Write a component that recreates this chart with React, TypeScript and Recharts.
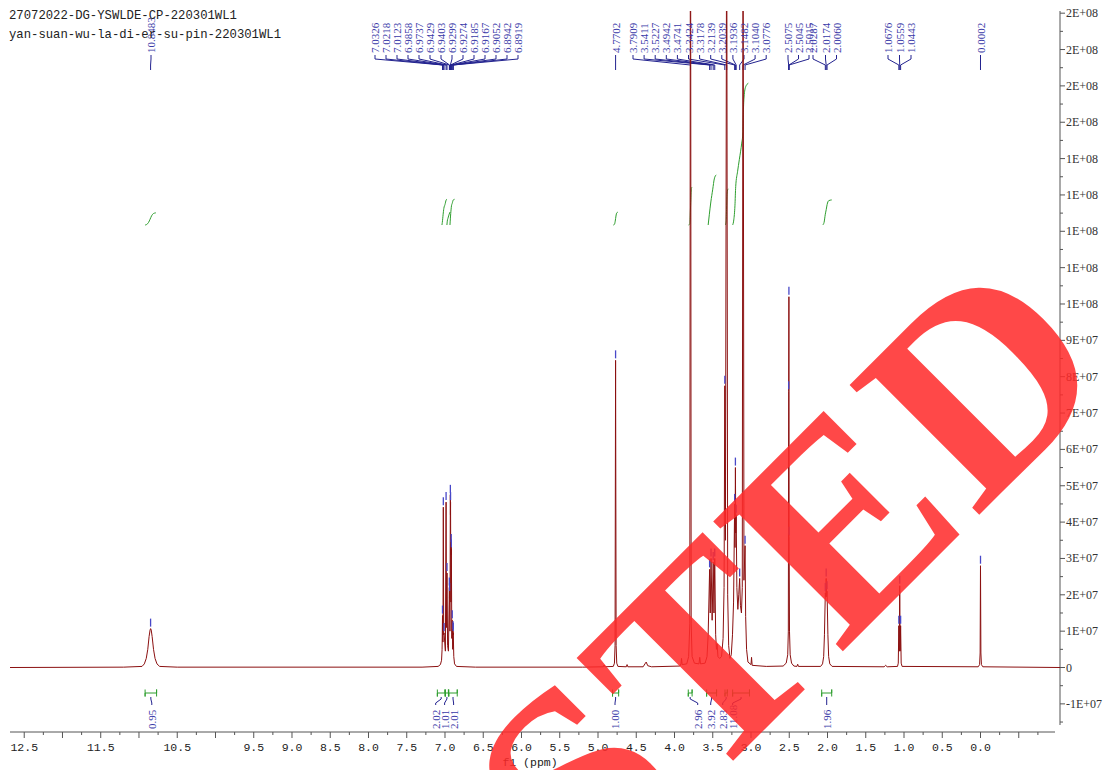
import React from 'react';
import { ComposedChart, Line, Scatter, XAxis, YAxis, ReferenceLine } from 'recharts';

// ---------- layout constants ----------
const W = 1106;
const H = 770;
const PLOT_LEFT = 10;
const PLOT_RIGHT = 1060;
const PLOT_TOP = 11;
const PLOT_BOTTOM = 732;
const X_DOMAIN: [number, number] = [-1.039, 12.686];
const Y_DOMAIN: [number, number] = [-1.774, 18.06]; // units of 1E+07
const INT_DOMAIN: [number, number] = [-39.61, 16.72];

const yAt = (px: number) =>
  Y_DOMAIN[1] - ((px - PLOT_TOP) * (Y_DOMAIN[1] - Y_DOMAIN[0])) / (PLOT_BOTTOM - PLOT_TOP);
const xAt = (px: number) =>
  X_DOMAIN[1] - ((px - PLOT_LEFT) * (X_DOMAIN[1] - X_DOMAIN[0])) / (PLOT_RIGHT - PLOT_LEFT);

// ---------- text ----------
const titleLines = ['27072022-DG-YSWLDE-CP-220301WL1', 'yan-suan-wu-la-di-er-su-pin-220301WL1'];
const xAxisTitle = 'f1 (ppm)';
const watermark = 'TESTED';

// ---------- axes ----------
const xLabelValues = [12.5, 11.5, 10.5, 9.5, 9.0, 8.5, 8.0, 7.5, 7.0, 6.5, 6.0, 5.5, 5.0, 4.5, 4.0, 3.5, 3.0, 2.5, 2.0, 1.5, 1.0, 0.5, 0.0];
const xTickLabels = ['12.5', '11.5', '10.5', '9.5', '9.0', '8.5', '8.0', '7.5', '7.0', '6.5', '6.0', '5.5', '5.0', '4.5', '4.0', '3.5', '3.0', '2.5', '2.0', '1.5', '1.0', '0.5', '0.0'];
const xTickValues: number[] = [];
for (let i = 0; i <= 53; i++) xTickValues.push(12.5 - i * 0.25);

const yMajorValues = [-1, 0, 1, 2, 3, 4, 5, 6, 7, 8, 9, 10, 11, 12, 13, 14, 15, 16, 17, 18];
const yTickLabels = ['-1E+07', '0', '1E+07', '2E+07', '3E+07', '4E+07', '5E+07', '6E+07', '7E+07', '8E+07', '9E+07', '1E+08', '1E+08', '1E+08', '1E+08', '1E+08', '2E+08', '2E+08', '2E+08', '2E+08'];
const yTickValues: number[] = [];
yMajorValues.forEach((v) => {
  yTickValues.push(v);
  yTickValues.push(v - 0.5);
});

// ---------- spectrum (ppm, intensity in 1E+07) ----------
const spectrum: [number, number][] = [
  [12.686, 0], [11.2, 0.01], [10.96, 0.03], [10.93, 0.1], [10.905, 0.25], [10.885, 0.5], [10.868, 0.85],
  [10.855, 1.03], [10.848, 1.07], [10.84, 1.03], [10.828, 0.85], [10.81, 0.5], [10.79, 0.25], [10.765, 0.1],
  [10.73, 0.03], [10.5, 0.01], [7.3, 0.01], [7.09, 0.03], [7.06, 0.08], [7.045, 0.2], [7.038, 0.5],
  [7.0326, 1.43], [7.027, 0.7], [7.0218, 4.41], [7.017, 0.9], [7.0123, 0.95], [6.995, 0.45], [6.9858, 4.55],
  [6.98, 1.1], [6.9737, 2.6], [6.966, 0.6], [6.955, 0.45], [6.9429, 2.2], [6.9415, 1.9], [6.9403, 2.05],
  [6.935, 1.0], [6.9299, 4.75], [6.9286, 4.2], [6.9274, 4.55], [6.923, 1.8], [6.9185, 3.4], [6.9176, 3.1],
  [6.9167, 3.25], [6.911, 0.8], [6.9052, 1.3], [6.899, 0.5], [6.8942, 1.0], [6.893, 0.9], [6.8919, 0.95],
  [6.885, 0.3], [6.875, 0.1], [6.85, 0.03], [6.6, 0.01], [5.2, 0.01], [4.93, 0.02], [4.92, 0.07], [4.91, 0.02],
  [4.8, 0.03], [4.785, 0.12], [4.777, 0.6], [4.7702, 8.45], [4.763, 0.6], [4.755, 0.12], [4.74, 0.03],
  [4.63, 0.02], [4.62, 0.08], [4.61, 0.02], [4.41, 0.02], [4.38, 0.12], [4.37, 0.15], [4.35, 0.05], [4.3, 0.02],
  [3.93, 0.04], [3.915, 0.1], [3.908, 0.25], [3.9, 0.08], [3.84, 0.1], [3.815, 0.3], [3.8, 1.2], [3.7909, 25],
  [3.782, 1.2], [3.77, 0.3], [3.74, 0.12], [3.68, 0.1], [3.67, 0.28], [3.66, 0.1], [3.6, 0.12], [3.575, 0.3],
  [3.56, 0.9], [3.5411, 2.7], [3.533, 1.5], [3.5227, 3.0], [3.508, 1.3], [3.4942, 2.9], [3.484, 1.5],
  [3.4741, 3.0], [3.462, 0.9], [3.452, 0.5], [3.443, 0.65], [3.432, 0.3], [3.41, 0.25], [3.385, 0.3],
  [3.365, 0.8], [3.352, 2.2], [3.3424, 7.75], [3.334, 3.5], [3.3178, 22], [3.305, 2.0], [3.292, 0.6],
  [3.275, 0.25], [3.258, 0.35], [3.242, 0.9], [3.228, 1.8], [3.2139, 4.5], [3.209, 3.3], [3.2039, 5.5],
  [3.199, 3.7], [3.1936, 4.2], [3.185, 2.2], [3.172, 1.6], [3.16, 2.0], [3.1482, 2.45], [3.138, 1.7],
  [3.125, 1.5], [3.114, 2.2], [3.104, 22], [3.092, 2.4], [3.0776, 3.35], [3.07, 1.4], [3.058, 0.5],
  [3.04, 0.15], [3.0, 0.08], [2.993, 0.28], [2.985, 0.06], [2.8, 0.03], [2.58, 0.04], [2.54, 0.12],
  [2.52, 0.35], [2.512, 1.0], [2.5075, 7.6], [2.5045, 10.2], [2.5015, 3.6], [2.497, 1.0], [2.488, 0.35],
  [2.47, 0.12], [2.44, 0.04], [2.4, 0.03], [2.39, 0.09], [2.38, 0.03], [2.09, 0.03], [2.065, 0.1], [2.05, 0.3],
  [2.04, 0.9], [2.0287, 2.05], [2.022, 1.95], [2.0174, 2.45], [2.012, 1.95], [2.006, 2.1], [1.995, 0.9],
  [1.985, 0.3], [1.97, 0.1], [1.94, 0.03], [1.26, 0.02], [1.24, 0.06], [1.22, 0.02], [1.085, 0.03],
  [1.075, 0.12], [1.0676, 1.15], [1.062, 0.45], [1.0559, 2.25], [1.05, 0.45], [1.0443, 1.15], [1.037, 0.12],
  [1.025, 0.03], [0.03, 0.02], [0.012, 0.08], [0.005, 0.4], [0.0002, 2.8], [-0.005, 0.4], [-0.012, 0.08],
  [-0.03, 0.02], [-1.039, 0],
];

// ---------- peak picking ----------
const peakPpm = [10.8483, 7.0326, 7.0218, 7.0123, 6.9858, 6.9737, 6.9429, 6.9403, 6.9299, 6.9274, 6.9185, 6.9167, 6.9052, 6.8942, 6.8919, 4.7702, 3.7909, 3.5411, 3.5227, 3.4942, 3.4741, 3.3424, 3.3178, 3.2139, 3.2039, 3.1936, 3.1482, 3.104, 3.0776, 2.5075, 2.5045, 2.5015, 2.0287, 2.0174, 2.006, 1.0676, 1.0559, 1.0443, 0.0002];
const peakText = ['10.8483', '7.0326', '7.0218', '7.0123', '6.9858', '6.9737', '6.9429', '6.9403', '6.9299', '6.9274', '6.9185', '6.9167', '6.9052', '6.8942', '6.8919', '4.7702', '3.7909', '3.5411', '3.5227', '3.4942', '3.4741', '3.3424', '3.3178', '3.2139', '3.2039', '3.1936', '3.1482', '3.1040', '3.0776', '2.5075', '2.5045', '2.5015', '2.0287', '2.0174', '2.0060', '1.0676', '1.0559', '1.0443', '0.0002'];
const peakHeight = [1.07, 1.43, 4.41, 0.95, 4.55, 2.6, 2.2, 2.05, 4.75, 4.55, 3.4, 3.25, 1.3, 1.0, 0.95, 8.45, 25, 2.7, 3.0, 2.9, 3.0, 7.75, 22, 4.5, 5.5, 4.2, 2.45, 22, 3.35, 7.6, 10.2, 3.6, 2.05, 2.45, 2.1, 1.15, 2.25, 1.15, 2.8];
// label positions along the top (pixels)
const peakLabelPx = [151, 375, 386, 397, 408, 419, 430, 441, 452, 463, 474, 485, 496, 507, 518, 615.6, 633, 644.1, 655.2, 666.3, 677.4, 688.5, 699.6, 710.7, 721.8, 732.9, 744, 755.1, 766.2, 788, 798.5, 809, 813, 825.5, 836.5, 888, 899.5, 911, 980.5];

// ---------- integrals ----------
const intValue = [0.95, 2.02, 1.01, 2.01, 1.0, 2.96, 3.92, 2.83, 11.08, 1.96];
const intFrom = [10.92, 7.1, 6.995, 6.95, 4.81, 3.82, 3.58, 3.34, 3.24, 2.076];
const intTo = [10.77, 7.0, 6.955, 6.84, 4.73, 3.77, 3.45, 3.31, 3.02, 1.945];
const intLabelPx = [151.8, 435.7, 444.6, 453.6, 615, 697.7, 710.7, 722.7, 732.7, 826.7];
const intCurves: [number, number][][] = [
  [[10.92, 0], [10.9, 0.04], [10.875, 0.2], [10.855, 0.45], [10.835, 0.72], [10.81, 0.9], [10.78, 0.95]],
  [[7.04, 0], [7.035, 0.2], [7.025, 0.8], [7.015, 1.3], [7.0, 1.6], [6.985, 1.95], [6.975, 2.02]],
  [[6.975, 0], [6.97, 0.3], [6.96, 0.55], [6.945, 0.85], [6.935, 1.01]],
  [[6.935, 0], [6.925, 0.9], [6.915, 1.5], [6.905, 1.7], [6.893, 1.95], [6.875, 2.01]],
  [[4.8, 0], [4.785, 0.05], [4.775, 0.3], [4.77, 0.5], [4.765, 0.7], [4.755, 0.95], [4.74, 1.0]],
  [[3.815, 0], [3.8, 0.1], [3.793, 1.0], [3.79, 1.5], [3.787, 2.0], [3.78, 2.85], [3.77, 2.96]],
  [[3.56, 0], [3.545, 0.8], [3.525, 1.8], [3.5, 2.8], [3.48, 3.6], [3.455, 3.92]],
  [[3.335, 0], [3.325, 0.3], [3.32, 1.2], [3.317, 1.8], [3.312, 2.5], [3.3, 2.83]],
  [[3.24, 0], [3.225, 0.4], [3.21, 1.5], [3.2, 3.0], [3.175, 4.2], [3.153, 5.1], [3.121, 6.4], [3.106, 7.2], [3.1, 8.8], [3.091, 10.0], [3.07, 10.8], [3.035, 11.08]],
  [[2.063, 0], [2.045, 0.2], [2.03, 0.8], [2.017, 1.2], [2.005, 1.6], [1.985, 1.9], [1.945, 1.96]],
];

// ---------- colours ----------
const SPEC_COLOR = '#8b1010';
const LABEL_BLUE = '#3a3aa8';
const CONN_BLUE = '#23238f';
const INT_GREEN = '#2e9e2e';
const AXIS_COLOR = '#555';

const XTick = (props: any) => {
  const { x, y, payload } = props;
  const v = payload.value as number;
  const major = Math.abs(v * 2 - Math.round(v * 2)) < 1e-6;
  const idx = xLabelValues.findIndex((l) => Math.abs(l - v) < 1e-6);
  return (
    <g>
      <line x1={x} y1={y} x2={x} y2={y + (major ? 6 : 3)} stroke={AXIS_COLOR} strokeWidth={1} />
      {idx >= 0 && (
        <text x={x} y={y + 19} textAnchor="middle" fontFamily="Liberation Mono" fontSize={11.5} fill="#222">
          {xTickLabels[idx]}
        </text>
      )}
    </g>
  );
};

const YTick = (props: any) => {
  const { x, y, payload } = props;
  const v = payload.value as number;
  const idx = yMajorValues.findIndex((m) => Math.abs(m - v) < 1e-6);
  const major = idx >= 0;
  return (
    <g>
      <line x1={x} y1={y} x2={x + (major ? 5 : 3)} y2={y} stroke={AXIS_COLOR} strokeWidth={1} />
      {major && (
        <text x={x + 6} y={y + 4} textAnchor="start" fontFamily="Liberation Serif" fontSize={12} fill="#333">
          {yTickLabels[idx]}
        </text>
      )}
    </g>
  );
};

const RotLabel = (props: any) => {
  const { cx, cy, payload } = props;
  if (cx == null || cy == null) return <g />;
  return (
    <text
      x={cx}
      y={cy}
      transform={`rotate(-90 ${cx} ${cy})`}
      dominantBaseline="central"
      textAnchor="start"
      fontFamily="Liberation Serif"
      fontSize={11}
      fill={LABEL_BLUE}
    >
      {payload.text}
    </text>
  );
};

const PeakMarker = (props: any) => {
  const { cx, cy } = props;
  if (cx == null || cy == null) return <g />;
  return <line x1={cx} y1={cy - 10} x2={cx} y2={cy - 2} stroke="#4848c8" strokeWidth={1.3} />;
};

export default function App() {
  const specData = spectrum.map(([x, y]) => ({ x, y }));

  const peakLabelData = peakPpm.map((p, i) => ({ x: xAt(peakLabelPx[i]), y: yAt(53), text: peakText[i] }));
  const markerData = peakPpm
    .map((p, i) => ({ x: p, y: peakHeight[i] }))
    .filter((d) => d.y < Y_DOMAIN[1] - 0.5);
  const peakConnectors = peakPpm.map((p, i) => {
    const lx = xAt(peakLabelPx[i]);
    return [
      { x: lx, y: yAt(55) },
      { x: lx, y: yAt(59) },
      { x: p, y: yAt(65) },
      { x: p, y: yAt(70) },
    ];
  });

  const intBars = intValue.map((_, i) => [
    { x: intFrom[i], y: yAt(689.5) },
    { x: intFrom[i], y: yAt(696.5) },
    { x: intFrom[i], y: yAt(693) },
    { x: intTo[i], y: yAt(693) },
    { x: intTo[i], y: yAt(689.5) },
    { x: intTo[i], y: yAt(696.5) },
  ]);
  const intConnectors = intValue.map((_, i) => {
    const mid = (intFrom[i] + intTo[i]) / 2;
    const lx = xAt(intLabelPx[i]);
    return [
      { x: mid, y: yAt(697) },
      { x: mid, y: yAt(699) },
      { x: lx, y: yAt(703) },
      { x: lx, y: yAt(705) },
    ];
  });
  const intLabelData = intValue.map((v, i) => ({ x: xAt(intLabelPx[i]), y: yAt(729), text: v.toFixed(2) }));
  const intCurveData = intCurves.map((c) => c.map(([x, y]) => ({ x, y })));

  return (
    <div style={{ position: 'absolute', left: 0, top: 0, width: W, height: H, background: '#fff', overflow: 'hidden' }}>
      <ComposedChart width={W} height={H} margin={{ top: PLOT_TOP, right: 0, bottom: 0, left: PLOT_LEFT }}>
        <XAxis
          xAxisId="x"
          type="number"
          dataKey="x"
          domain={X_DOMAIN}
          reversed
          allowDataOverflow
          ticks={xTickValues}
          interval={0}
          tick={XTick}
          tickSize={0}
          tickMargin={0}
          axisLine={false}
          tickLine={false}
          height={H - PLOT_BOTTOM}
        />
        <YAxis
          yAxisId="main"
          orientation="right"
          type="number"
          dataKey="y"
          domain={Y_DOMAIN}
          allowDataOverflow
          ticks={yTickValues}
          interval={0}
          tick={YTick}
          tickSize={0}
          tickMargin={0}
          axisLine={false}
          tickLine={false}
          width={W - PLOT_RIGHT}
        />
        <YAxis yAxisId="int" hide type="number" dataKey="y" domain={INT_DOMAIN} allowDataOverflow />

        <ReferenceLine
          xAxisId="x"
          yAxisId="main"
          ifOverflow="visible"
          stroke={AXIS_COLOR}
          segment={[{ x: X_DOMAIN[1], y: Y_DOMAIN[0] }, { x: xAt(1055), y: Y_DOMAIN[0] }]}
        />
        <ReferenceLine
          xAxisId="x"
          yAxisId="main"
          ifOverflow="visible"
          stroke={AXIS_COLOR}
          segment={[{ x: X_DOMAIN[0], y: yAt(725) }, { x: X_DOMAIN[0], y: Y_DOMAIN[1] }]}
        />

        {intCurveData.map((d, i) => (
          <Line key={`ic${i}`} xAxisId="x" yAxisId="int" data={d} dataKey="y" type="monotone" stroke={INT_GREEN} strokeWidth={1} dot={false} activeDot={false} isAnimationActive={false} />
        ))}
        {intBars.map((d, i) => (
          <Line key={`ib${i}`} xAxisId="x" yAxisId="main" data={d} dataKey="y" type="linear" stroke={INT_GREEN} strokeWidth={1} dot={false} activeDot={false} isAnimationActive={false} />
        ))}
        {intConnectors.map((d, i) => (
          <Line key={`icn${i}`} xAxisId="x" yAxisId="main" data={d} dataKey="y" type="linear" stroke={CONN_BLUE} strokeWidth={1} dot={false} activeDot={false} isAnimationActive={false} />
        ))}
        {peakConnectors.map((d, i) => (
          <Line key={`pc${i}`} xAxisId="x" yAxisId="main" data={d} dataKey="y" type="linear" stroke={CONN_BLUE} strokeWidth={1} dot={false} activeDot={false} isAnimationActive={false} />
        ))}

        <Line xAxisId="x" yAxisId="main" data={specData} dataKey="y" type="linear" stroke={SPEC_COLOR} strokeWidth={1} dot={false} activeDot={false} isAnimationActive={false} />

        <Scatter xAxisId="x" yAxisId="main" data={markerData} dataKey="y" shape={PeakMarker} isAnimationActive={false} />
        <Scatter xAxisId="x" yAxisId="main" data={peakLabelData} dataKey="y" shape={RotLabel} isAnimationActive={false} />
        <Scatter xAxisId="x" yAxisId="main" data={intLabelData} dataKey="y" shape={RotLabel} isAnimationActive={false} />
      </ComposedChart>

      <svg width={W} height={H} style={{ position: 'absolute', left: 0, top: 0, pointerEvents: 'none' }}>
        <text x={9} y={19} fontFamily="Liberation Mono" fontSize={12.25} fill="#222">{titleLines[0]}</text>
        <text x={9} y={38} fontFamily="Liberation Mono" fontSize={12.25} fill="#222">{titleLines[1]}</text>
        <text x={530} y={766} textAnchor="middle" fontFamily="Liberation Mono" fontSize={11.5} fill="#222">{xAxisTitle}</text>
        <text
          x={1123}
          y={371}
          textAnchor="end"
          transform="rotate(-45 1123 371)"
          fontFamily="Liberation Serif"
          fontWeight="bold"
          fontSize={280}
          letterSpacing={6}
          fill="#ff2a2a"
          fillOpacity={0.86}
        >
          {watermark}
        </text>
      </svg>
    </div>
  );
}
